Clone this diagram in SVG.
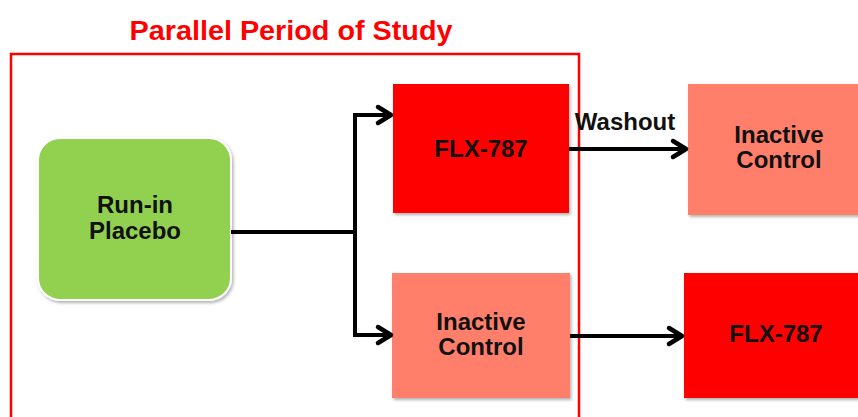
<svg xmlns="http://www.w3.org/2000/svg" width="858" height="417" viewBox="0 0 858 417">
<style>
.lbl{font-family:"Liberation Sans",Arial,sans-serif;font-weight:bold;font-size:24px;fill:#111;text-anchor:middle}
.title{font-family:"Liberation Sans",Arial,sans-serif;font-weight:bold;font-size:27px;fill:#FF0000;text-anchor:middle}
.red{fill:#FF0000}
.salmon{fill:#FF7F6B}
.conn{fill:none;stroke:#000;stroke-width:4}
</style>
<defs>
<filter id="sh" x="-10%" y="-10%" width="125%" height="125%">
<feDropShadow dx="1.5" dy="2" stdDeviation="1.5" flood-color="#000" flood-opacity="0.3"/>
</filter>
<marker id="arr" markerUnits="userSpaceOnUse" markerWidth="24" markerHeight="24" viewBox="-20 -12 24 24" refX="0" refY="0" orient="auto">
<path d="M-14,-8 L-1,0 L-14,8" fill="none" stroke="#000" stroke-width="4.5" stroke-linecap="round" stroke-linejoin="round"/>
</marker>
</defs>
<rect width="858" height="417" fill="#fff"/>
<g id="frame">
<text class="title" x="291" y="40" textLength="323" lengthAdjust="spacingAndGlyphs">Parallel Period of Study</text>
<path d="M11,420 V54 H579 V420" fill="none" stroke="#FF0000" stroke-width="2.5"/>
</g>
<g id="runin">
<rect x="38" y="138" width="193" height="162" rx="22" fill="#92D050" stroke="#fff" stroke-width="2" filter="url(#sh)"/>
<text class="lbl" x="135" y="213">Run-in</text>
<text class="lbl" x="135" y="239">Placebo</text>
</g>
<g id="flx1">
<rect class="red" x="393" y="84" width="176" height="129" filter="url(#sh)"/>
<text class="lbl" x="481" y="157">FLX-787</text>
</g>
<g id="inactive1">
<rect class="salmon" x="392" y="273" width="178" height="125" filter="url(#sh)"/>
<text class="lbl" x="481" y="330">Inactive</text>
<text class="lbl" x="481" y="355">Control</text>
</g>
<g id="inactive2">
<rect class="salmon" x="688" y="84" width="175" height="131" filter="url(#sh)"/>
<text class="lbl" x="779" y="143">Inactive</text>
<text class="lbl" x="779" y="168">Control</text>
</g>
<g id="flx2">
<rect class="red" x="684" y="273" width="180" height="125" filter="url(#sh)"/>
<text class="lbl" x="776" y="342">FLX-787</text>
</g>
<g id="connectors">
<path class="conn" d="M231,232 H355"/>
<path class="conn" d="M355,336 V115 H392" marker-end="url(#arr)"/>
<path class="conn" d="M355,232 V335 H392" marker-end="url(#arr)"/>
<path class="conn" d="M569,149 H687" marker-end="url(#arr)"/>
<path class="conn" d="M570,336 H683" marker-end="url(#arr)"/>
<text class="lbl" x="625" y="130">Washout</text>
</g>
</svg>
